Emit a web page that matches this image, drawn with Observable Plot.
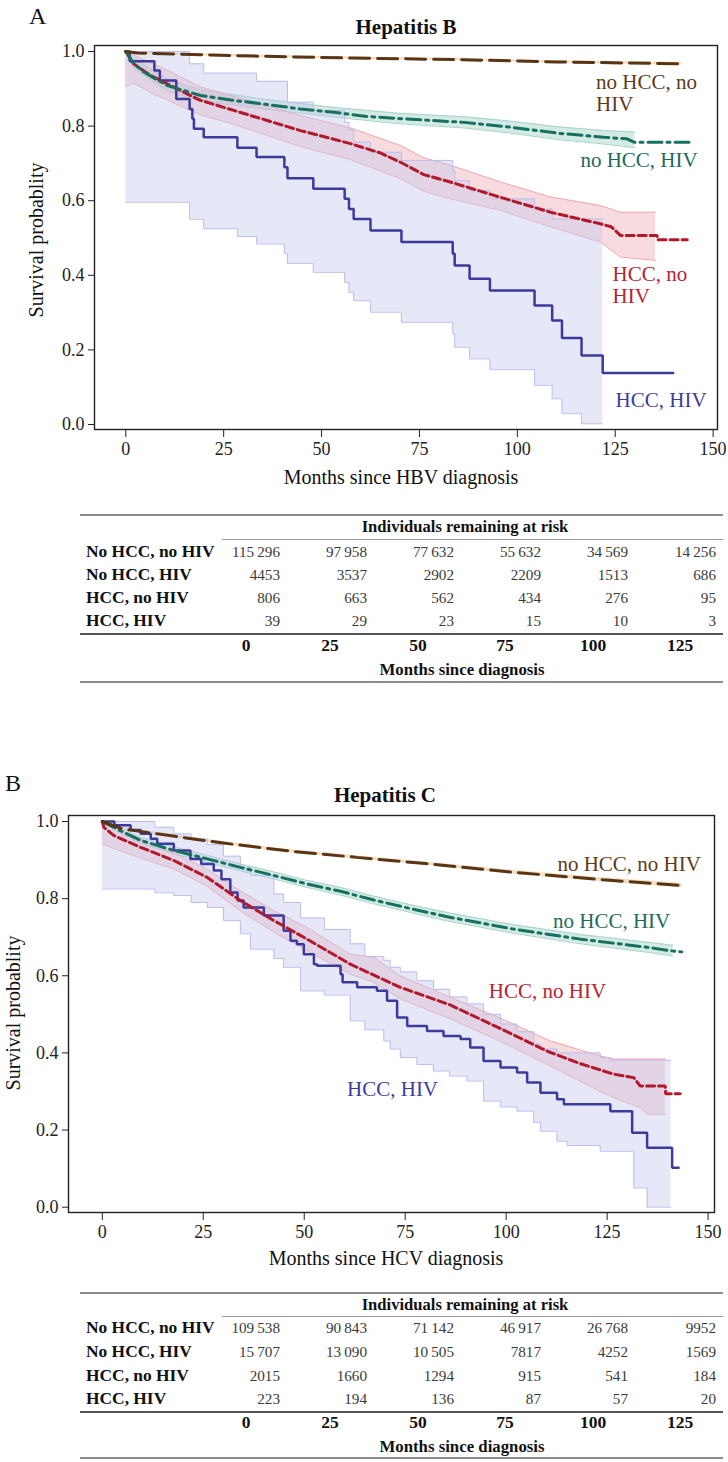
<!DOCTYPE html>
<html><head><meta charset="utf-8">
<script src="https://cdn.jsdelivr.net/npm/d3@7"></script>
<script src="https://cdn.jsdelivr.net/npm/@observablehq/plot@0.6"></script>
<style>
html,body{margin:0;padding:0;background:#fff;}
#page{position:relative;width:728px;height:1462px;overflow:hidden;font-family:"Liberation Serif","Times New Roman",serif;color:#111;}
.abs{position:absolute;white-space:nowrap;line-height:1;}
.hl{position:absolute;}
</style></head><body><div id="page"></div>
<script>
// ---------------- DATA ----------------
const seriesNames = ["no HCC, no HIV", "no HCC, HIV", "HCC, no HIV", "HCC, HIV"];
const xTicks = [0, 25, 50, 75, 100, 125, 150];
const yTicks = [0, 0.2, 0.4, 0.6, 0.8, 1.0];

// Hepatitis B: [month, survival]
const hbvNoHccNoHiv = [[0,1.0],[3,0.996],[27,0.989],[55,0.983],[86,0.978],[110,0.972],[142,0.967]];
const hbvNoHccNoHivCI = [[0,1.0,1.0],[3,0.993,0.999],[27,0.986,0.992],[55,0.980,0.986],[86,0.975,0.981],[110,0.969,0.975],[142,0.963,0.971]];
const hbvNoHccHiv = [[0,1.0],[2,0.968],[4.6,0.945],[7,0.930],[10.6,0.909],[15,0.895],[19.1,0.882],[27.5,0.869],[36.1,0.858],[44.6,0.846],[53.2,0.837],[61.6,0.826],[70.1,0.820],[86.5,0.810],[98.4,0.797],[110.3,0.781],[122.1,0.770],[128,0.766],[129.8,0.757],[144,0.757]];
const hbvNoHccHivCI = [[0,1.0,1.0],[2,0.955,0.982],[10.6,0.893,0.925],[19.1,0.867,0.897],[36.1,0.845,0.871],[53.2,0.824,0.850],[70.1,0.806,0.834],[86.5,0.795,0.825],[98.4,0.781,0.813],[110.3,0.764,0.798],[122.1,0.752,0.788],[130,0.742,0.784]];
const hbvHccNoHiv = [[0,1.0],[2,0.967],[6.3,0.936],[10.6,0.913],[14.8,0.891],[19.1,0.869],[27.6,0.842],[36.1,0.815],[44.6,0.788],[57.4,0.753],[65,0.728],[70.2,0.703],[76.1,0.670],[82.9,0.650],[95.7,0.609],[108.5,0.569],[121.2,0.538],[124,0.530],[126.3,0.507],[135.7,0.507],[135.8,0.495],[143.4,0.495]];
const hbvHccNoHivCI = [[0,0.906,1.0],[2,0.915,0.99],[6.3,0.89,0.97],[10.6,0.87,0.95],[19.1,0.83,0.905],[27.6,0.805,0.88],[36.1,0.775,0.855],[44.6,0.745,0.828],[57.4,0.71,0.795],[70.2,0.659,0.748],[76.1,0.625,0.715],[82.9,0.605,0.695],[95.7,0.574,0.65],[108.5,0.53,0.61],[121.2,0.489,0.587],[126.3,0.449,0.569],[135.3,0.44,0.569]];
const hbvHccHiv = [[0,1.0],[1,0.974],[7.3,0.949],[8.7,0.922],[12.9,0.873],[16.3,0.846],[17,0.820],[17.4,0.793],[19.9,0.770],[28.5,0.742],[33.4,0.717],[40.5,0.690],[41.3,0.660],[47.9,0.632],[55.9,0.605],[57,0.578],[58.2,0.551],[62.5,0.520],[70.4,0.489],[83.5,0.458],[84,0.426],[87.8,0.391],[93,0.359],[104.4,0.319],[108.9,0.279],[111.4,0.232],[116.4,0.185],[121.8,0.138],[139.8,0.138]];
const hbvHccHivCI = [[0,0.596,1.0],[16.3,0.55,0.967],[19.9,0.525,0.942],[28.5,0.504,0.942],[33.4,0.484,0.92],[40.5,0.458,0.92],[41.3,0.432,0.864],[47.9,0.408,0.842],[55.9,0.381,0.81],[57,0.354,0.79],[58.2,0.332,0.757],[62.5,0.301,0.73],[70.4,0.274,0.708],[83.5,0.243,0.681],[84,0.207,0.654],[87.8,0.176,0.627],[93,0.147,0.605],[104.4,0.105,0.578],[108.9,0.069,0.551],[111.4,0.029,0.551],[116.4,0.002,0.551],[121.8,0.002,0.551]];

// Hepatitis C: [month, survival]
const hcvNoHccNoHiv = [[0,1.0],[5,0.981],[13.6,0.968],[30,0.944],[46.6,0.923],[63,0.907],[80,0.891],[101,0.869],[124,0.849],[143.5,0.834]];
const hcvNoHccNoHivCI = [[0,1.0,1.0],[5,0.977,0.985],[13.6,0.964,0.972],[30,0.940,0.948],[46.6,0.919,0.927],[63,0.903,0.911],[80,0.887,0.895],[101,0.864,0.874],[124,0.844,0.854],[143.5,0.828,0.840]];
const hcvNoHccHiv = [[0,1.0],[5.3,0.972],[9.5,0.951],[17.7,0.925],[26,0.903],[34.2,0.881],[42.5,0.860],[50.7,0.838],[59,0.819],[67,0.797],[76,0.775],[85.4,0.753],[101.9,0.721],[118.4,0.695],[134.9,0.674],[140.6,0.665],[143.5,0.662]];
const hcvNoHccHivCI = [[0,1.0,1.0],[5.3,0.964,0.980],[9.5,0.943,0.959],[17.7,0.916,0.934],[26,0.894,0.912],[34.2,0.872,0.890],[42.5,0.851,0.869],[50.7,0.829,0.847],[59,0.809,0.829],[67,0.787,0.807],[76,0.765,0.785],[85.4,0.742,0.764],[101.9,0.710,0.732],[118.4,0.683,0.707],[134.9,0.661,0.687],[141.3,0.651,0.679]];
const hcvHccNoHiv = [[0,1.0],[0.4,0.985],[2.8,0.964],[9.5,0.933],[17.7,0.899],[26,0.855],[34.2,0.795],[42.5,0.743],[50.7,0.695],[61.4,0.630],[73.8,0.570],[86,0.525],[98.6,0.463],[110.5,0.403],[118.4,0.372],[126.6,0.345],[131.6,0.336],[133.2,0.314],[139.4,0.314],[139.5,0.294],[143.1,0.294]];
const hcvHccNoHivCI = [[0,0.942,1.0],[2.8,0.93,0.985],[9.5,0.905,0.955],[17.7,0.877,0.918],[26,0.832,0.877],[34.2,0.768,0.82],[42.5,0.713,0.769],[50.7,0.665,0.725],[61.4,0.604,0.656],[67.2,0.583,0.648],[73.8,0.54,0.60],[86.2,0.488,0.544],[98.6,0.43,0.49],[110.9,0.366,0.431],[123.3,0.30,0.392],[126.6,0.284,0.384],[133.2,0.258,0.384],[135,0.241,0.384],[139.4,0.241,0.384]];
const hcvHccHiv = [[0,1.0],[3,0.99],[7,0.978],[9.5,0.968],[12,0.955],[13.6,0.942],[17.7,0.925],[21.8,0.903],[24.5,0.89],[27.6,0.873],[29.5,0.85],[31.7,0.816],[33.5,0.795],[35,0.777],[40,0.756],[44.9,0.717],[46.6,0.691],[48.2,0.682],[49.9,0.656],[52.4,0.63],[53.2,0.626],[59,0.604],[59.5,0.583],[63.1,0.57],[68,0.561],[70.5,0.535],[73,0.492],[75.5,0.47],[80.4,0.457],[84.5,0.444],[88.7,0.436],[91.1,0.414],[94.4,0.379],[98.6,0.362],[102.7,0.349],[105.2,0.323],[108.5,0.297],[112.6,0.28],[114.3,0.267],[125.8,0.249],[131.2,0.193],[134.9,0.154],[141.1,0.102],[142.7,0.102]];
const hcvHccHivCI = [[0,0.825,1.0],[10,0.825,1.0],[13,0.815,0.985],[17.7,0.808,0.968],[22,0.79,0.955],[26,0.777,0.94],[30,0.743,0.91],[34.2,0.709,0.881],[36.7,0.669,0.86],[42.5,0.645,0.812],[44.9,0.622,0.79],[49.1,0.561,0.75],[55,0.55,0.72],[61.4,0.483,0.683],[65,0.46,0.65],[69.7,0.431,0.64],[71.3,0.41,0.622],[73.8,0.388,0.61],[77.9,0.37,0.587],[82,0.353,0.565],[86,0.34,0.545],[90.3,0.327,0.527],[94.4,0.275,0.5],[98.6,0.26,0.475],[102.7,0.249,0.455],[106.8,0.22,0.423],[108.5,0.197,0.41],[112.6,0.171,0.40],[115.1,0.16,0.40],[123.3,0.145,0.388],[125.8,0.145,0.381],[131.6,0.05,0.381],[134.9,0.0,0.381],[140.8,0.0,0.381]];

// curve labels: [text, month, survival]
const hbvLabels = [["no HCC, no\nHIV",120.1,0.889],["no HCC, HIV",116.1,0.710],["HCC, no\nHIV",124.3,0.374],["HCC, HIV",125.1,0.067]];
const hcvLabels = [["no HCC, no HIV",112.7,0.891],["no HCC, HIV",111.6,0.743],["HCC, no HIV",95.7,0.562],["HCC, HIV",60.6,0.307]];

// at-risk tables
const rowLabels = ["No HCC, no HIV", "No HCC, HIV", "HCC, no HIV", "HCC, HIV"];
const riskTimes = [0, 25, 50, 75, 100, 125];
const hbvAtRisk = [[115296,97958,77632,55632,34569,14256],[4453,3537,2902,2209,1513,686],[806,663,562,434,276,95],[39,29,23,15,10,3]];
const hcvAtRisk = [[109538,90843,71142,46917,26768,9952],[15707,13090,10505,7817,4252,1569],[2015,1660,1294,915,541,184],[223,194,136,87,57,20]];

// ---------------- STYLE ----------------
const styles = [
  {line:"#5b3413", dash:"20,8", width:3, band:"#e6c9a0", bandOp:0.6, edge:null, label:"#5e3a18", step:false},
  {line:"#16705f", dash:"14,5,3,5", width:3, band:"#cde7e0", bandOp:0.85, edge:"#a6d3c8", label:"#1d6b5d", step:false},
  {line:"#b3172b", dash:"8,4", width:3, band:"#eeaab3", bandOp:0.42, edge:"#f2a7b0", label:"#b8232f", step:false},
  {line:"#3c3a9c", dash:null, width:2.5, band:"#c3c7ee", bandOp:0.42, edge:"#bdbdec", label:"#3d3d9e", step:true}
];

const page = document.getElementById("page");
function txt(s, o) {
  const d = document.createElement("div");
  d.className = "abs";
  d.textContent = s;
  d.style.fontSize = (o.size || 18) + "px";
  if (o.bold) d.style.fontWeight = "bold";
  if (o.color) d.style.color = o.color;
  let tx = "0";
  if (o.align === "center") tx = "-50%";
  if (o.align === "right") tx = "-100%";
  d.style.left = o.x + "px";
  d.style.top = o.y + "px";
  d.style.transform = o.rotate ? "translate(-50%,-50%) rotate(-90deg)" : `translate(${tx},-50%)`;
  page.appendChild(d);
  return d;
}
function hline(x1, x2, y, w, c) {
  const d = document.createElement("div");
  d.className = "hl";
  d.style.left = x1 + "px"; d.style.width = (x2 - x1) + "px";
  d.style.top = (y - w / 2) + "px"; d.style.height = w + "px";
  d.style.background = c;
  page.appendChild(d);
}

function panel(cfg) {
  const marks = [];
  const fx = d => d[0];
  cfg.series.forEach((s, i) => {
    const st = styles[i];
    const curve = st.step ? "step-after" : "linear";
    marks.push(Plot.areaY(s.ci, {x: fx, y1: d => d[1], y2: d => d[2], curve, fill: st.band, fillOpacity: st.bandOp}));
    if (st.edge) {
      marks.push(Plot.lineY(s.ci, {x: fx, y: d => d[1], curve, stroke: st.edge, strokeWidth: 1}));
      marks.push(Plot.lineY(s.ci, {x: fx, y: d => d[2], curve, stroke: st.edge, strokeWidth: 1}));
    }
  });
  [3, 2, 1, 0].forEach(i => {
    const st = styles[i];
    marks.push(Plot.lineY(cfg.series[i].km, {x: fx, y: d => d[1], curve: st.step ? "step-after" : "linear",
      stroke: st.line, strokeWidth: st.width, strokeDasharray: st.dash || undefined, strokeLinejoin: "miter"}));
  });
  marks.push(Plot.text(cfg.labels, {x: d => d[1], y: d => d[2], text: d => d[0], textAnchor: "start",
    fill: (d, i) => styles[i].label, fontSize: 21, lineHeight: 1.05}));
  marks.push(Plot.axisY({ticks: yTicks, tickFormat: d3.format(".1f"), tickSize: 6, tickPadding: 4, label: null, fontSize: 18}));
  marks.push(Plot.axisX({ticks: xTicks, tickSize: 8, tickPadding: 5, label: null, fontSize: 18}));
  marks.push(Plot.frame({stroke: "#222", strokeWidth: 1.4}));
  const svg = Plot.plot({
    width: 728, height: cfg.height,
    marginLeft: cfg.mL, marginRight: cfg.mR, marginTop: cfg.mT, marginBottom: cfg.mB,
    x: {domain: cfg.xDomain, label: null},
    y: {domain: cfg.yDomain, label: null},
    style: {fontFamily: '"Liberation Serif", serif', fontSize: "18px", background: "transparent", color: "#222"},
    marks
  });
  svg.style.position = "absolute";
  svg.style.left = "0px";
  svg.style.top = cfg.top + "px";
  page.appendChild(svg);
}

function fmt(n) { return n >= 10000 ? d3.format(",")(n).replace(/,/g, "\u2009") : String(n); }

function table(cfg) {
  const colRight = [280, 367, 454, 541, 628, 716];
  const colCenter = [246, 330, 418, 505, 593, 680];
  hline(80, 723, cfg.top, 2, "#8c8c8c");
  txt("Individuals remaining at risk", {x: 465, y: cfg.header, size: 16.6, bold: true, align: "center"});
  hline(222, 723, cfg.headerLine, 1, "#9a9a9a");
  cfg.rows.forEach((row, r) => {
    txt(rowLabels[r], {x: 86, y: cfg.rowY[r], size: 17.4, bold: true});
    row.forEach((v, c) => txt(fmt(v), {x: colRight[c], y: cfg.rowY[r], size: 15.2, align: "right", color: "#3a3a3a"}));
  });
  hline(80, 723, cfg.midLine, 1.6, "#555");
  riskTimes.forEach((t, c) => txt(String(t), {x: colCenter[c], y: cfg.numY, size: 17.5, bold: true, align: "center"}));
  txt("Months since diagnosis", {x: 462, y: cfg.footY, size: 16.8, bold: true, align: "center"});
  hline(80, 723, cfg.bottom, 2, "#8c8c8c");
}

// ---------------- PANEL A ----------------
txt("A", {x: 29, y: 16, size: 24});
txt("Hepatitis B", {x: 406, y: 27, size: 21, bold: true, align: "center"});
panel({
  top: 35, height: 429, mL: 94, mR: 11, mT: 10, mB: 35,
  xDomain: [-7.99, 151.12], yDomain: [-0.0134, 1.0161],
  series: [
    {km: hbvNoHccNoHiv, ci: hbvNoHccNoHivCI},
    {km: hbvNoHccHiv, ci: hbvNoHccHivCI},
    {km: hbvHccNoHiv, ci: hbvHccNoHivCI},
    {km: hbvHccHiv, ci: hbvHccHivCI}
  ],
  labels: hbvLabels
});
txt("Survival probablity", {x: 36, y: 240, size: 20, rotate: true});
txt("Months since HBV diagnosis", {x: 401, y: 477, size: 20, align: "center"});
table({top: 515, header: 527, headerLine: 539, rowY: [552, 575, 598, 621], midLine: 634, numY: 646, footY: 670, bottom: 682, rows: hbvAtRisk});

// ---------------- PANEL B ----------------
txt("B", {x: 5, y: 783, size: 24});
txt("Hepatitis C", {x: 385, y: 795, size: 21, bold: true, align: "center"});
panel({
  top: 805, height: 442, mL: 68, mR: 14, mT: 10, mB: 35,
  xDomain: [-8.37, 151.59], yDomain: [-0.01374, 1.01556],
  series: [
    {km: hcvNoHccNoHiv, ci: hcvNoHccNoHivCI},
    {km: hcvNoHccHiv, ci: hcvNoHccHivCI},
    {km: hcvHccNoHiv, ci: hcvHccNoHivCI},
    {km: hcvHccHiv, ci: hcvHccHivCI}
  ],
  labels: hcvLabels
});
txt("Survival probablity", {x: 13, y: 1013, size: 20, rotate: true});
txt("Months since HCV diagnosis", {x: 386, y: 1258, size: 20, align: "center"});
table({top: 1293, header: 1305, headerLine: 1316, rowY: [1328, 1352, 1376, 1399], midLine: 1412, numY: 1423, footY: 1447, bottom: 1458, rows: hcvAtRisk});
</script></body></html>
